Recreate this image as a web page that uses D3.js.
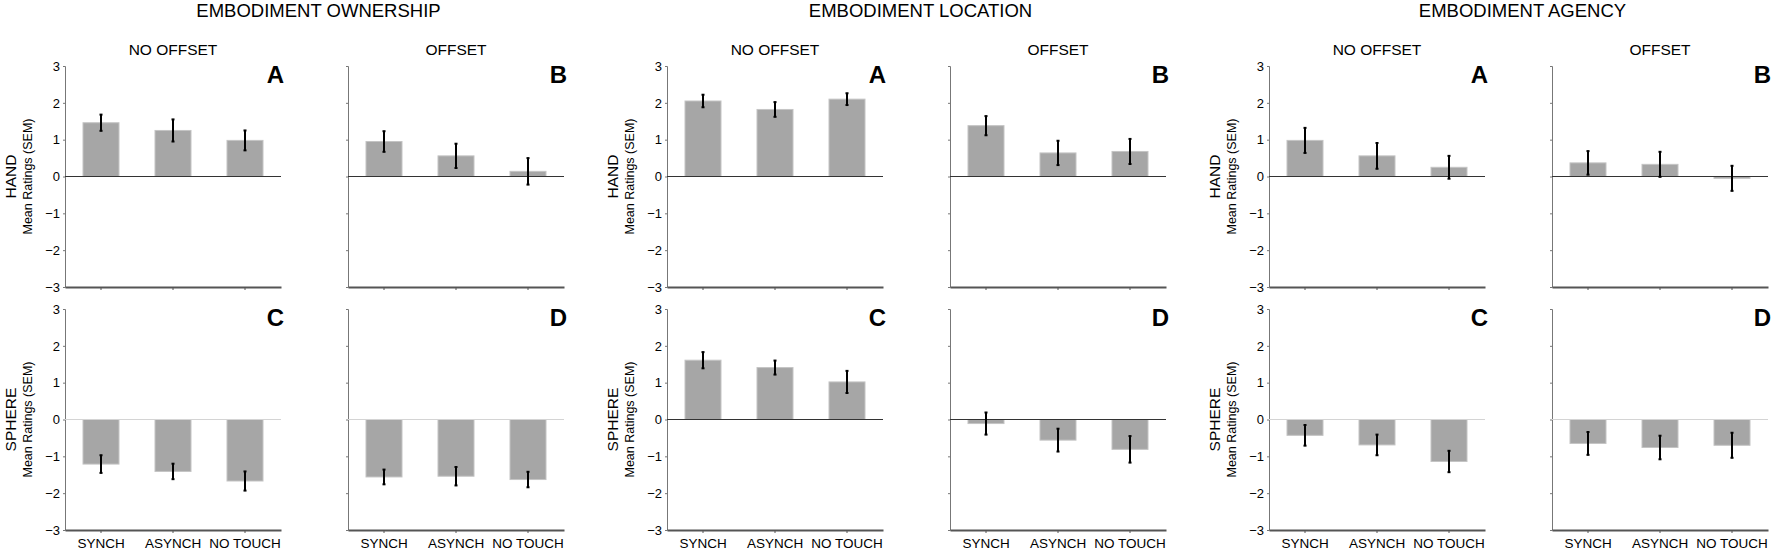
<!DOCTYPE html>
<html>
<head>
<meta charset="utf-8">
<script src="https://cdn.jsdelivr.net/npm/d3@7"></script>
<style>
  body { margin: 0; background: #fff; }
  svg { display: block; font-family: "Liberation Sans", Arial, Helvetica, sans-serif; }
</style>
</head>
<body>
<svg width="1772" height="551"></svg>
<script>
const measures = ["EMBODIMENT OWNERSHIP", "EMBODIMENT LOCATION", "EMBODIMENT AGENCY"];
const offsets = ["NO OFFSET", "OFFSET"];
const objects = ["HAND", "SPHERE"];
const conditions = ["SYNCH", "ASYNCH", "NO TOUCH"];
const yTicks = [-3, -2, -1, 0, 1, 2, 3];
const panelLetters = [["A", "B"], ["C", "D"]];

// mean ratings per panel: hand/no offset, hand/offset, sphere/no offset, sphere/offset
const ownershipMean = [[1.46, 1.25, 0.98], [0.95, 0.56, 0.14], [-1.21, -1.41, -1.67], [-1.56, -1.54, -1.63]];
const ownershipSem  = [[0.22, 0.30, 0.27], [0.28, 0.33, 0.36], [0.24, 0.21, 0.26], [0.20, 0.25, 0.21]];
const locationMean  = [[2.05, 1.82, 2.10], [1.38, 0.64, 0.68], [1.61, 1.41, 1.02], [-0.11, -0.56, -0.81]];
const locationSem   = [[0.17, 0.20, 0.16], [0.26, 0.33, 0.34], [0.22, 0.19, 0.30], [0.30, 0.31, 0.36]];
const agencyMean    = [[0.98, 0.56, 0.25], [0.37, 0.33, -0.05], [-0.43, -0.69, -1.14], [-0.65, -0.76, -0.70]];
const agencySem     = [[0.34, 0.35, 0.31], [0.32, 0.34, 0.34], [0.28, 0.28, 0.29], [0.31, 0.32, 0.34]];

const means = [ownershipMean, locationMean, agencyMean];
const sems = [ownershipSem, locationSem, agencySem];

// layout
const left0 = 65, panelW = 216, innerGap = 67, groupGap = 103;
const rows = [{ top: 66, bottom: 287 }, { top: 309, bottom: 530 }];

const svg = d3.select("svg");

const x = d3.scaleBand()
    .domain(conditions)
    .range([0, panelW])
    .paddingInner(0.5)
    .paddingOuter(0.25);

measures.forEach((measure, g) => {
    const gx = left0 + g * (2 * panelW + innerGap + groupGap);

    // group title
    svg.append("text")
        .attr("x", gx + panelW + innerGap / 2 + 4)
        .attr("y", 17)
        .attr("text-anchor", "middle")
        .style("font-size", "18.5px")
        .text(measure);

    offsets.forEach((off, c) => {
        const px = gx + c * (panelW + innerGap);

        svg.append("text")
            .attr("x", px + panelW / 2)
            .attr("y", 55)
            .attr("text-anchor", "middle")
            .style("font-size", "15.5px")
            .text(off);

        rows.forEach((row, r) => {
            const y = d3.scaleLinear().domain([-3, 3]).range([row.bottom, row.top]);
            const vals = means[g][r * 2 + c];
            const errs = sems[g][r * 2 + c];
            const data = conditions.map((k, i) => ({ k: k, v: vals[i], e: errs[i] }));

            const p = svg.append("g").attr("transform", `translate(${px},0)`);

            // row label on the no-offset panels
            if (c === 0) {
                p.append("text")
                    .attr("transform", `translate(-33,${y(0)}) rotate(-90)`)
                    .attr("text-anchor", "middle")
                    .style("font-size", "12.5px")
                    .text("Mean Ratings (SEM)");
                p.append("text")
                    .attr("transform", `translate(-49,${y(0)}) rotate(-90)`)
                    .attr("text-anchor", "middle")
                    .style("font-size", "15.5px")
                    .text(objects[r]);
            }

            // y axis
            const ya = p.append("g")
                .call(d3.axisLeft(y).tickValues(yTicks).tickSize(2).tickPadding(3)
                    .tickFormat(c === 0 ? d => d3.format("")(d).replace("-", "\u2212") : ""));
            ya.select(".domain").attr("stroke", "#777").attr("stroke-width", 1);
            ya.selectAll(".tick line").attr("stroke", "#777");
            ya.selectAll(".tick text").style("font-size", "13px").attr("fill", "#000");

            // x axis
            const xa = p.append("g")
                .attr("transform", `translate(0,${row.bottom})`)
                .call(d3.axisBottom(x).tickSize(3).tickSizeOuter(0).tickPadding(5)
                    .tickFormat(r === 1 ? d => d : ""));
            xa.select(".domain").attr("stroke", "#555").attr("stroke-width", 2);
            xa.selectAll(".tick line").attr("stroke", "#555");
            xa.selectAll(".tick text").style("font-size", "13.5px").attr("fill", "#000");

            // bars
            p.selectAll("rect.bar")
                .data(data)
                .enter().append("rect")
                .attr("class", "bar")
                .attr("x", d => x(d.k))
                .attr("width", x.bandwidth())
                .attr("y", d => y(Math.max(0, d.v)))
                .attr("height", d => Math.abs(y(d.v) - y(0)))
                .attr("fill", "#a6a6a6")
                .attr("stroke", "#c4c4c4")
                .attr("stroke-width", 1);

            // zero line
            const reachesUp = d3.max(data, d => d.v + d.e) > 0;
            p.append("line")
                .attr("x1", 0).attr("x2", panelW)
                .attr("y1", y(0)).attr("y2", y(0))
                .attr("stroke", reachesUp ? "#333" : "#d4d4d4")
                .attr("stroke-width", 1);

            // error bars
            const eb = p.selectAll("g.err")
                .data(data)
                .enter().append("g")
                .attr("class", "err")
                .attr("transform", d => `translate(${x(d.k) + x.bandwidth() / 2},0)`);
            eb.append("line")
                .attr("y1", d => y(d.v - d.e)).attr("y2", d => y(d.v + d.e))
                .attr("stroke", "#000").attr("stroke-width", 2);
            eb.append("line")
                .attr("x1", -1.5).attr("x2", 1.5)
                .attr("y1", d => y(d.v + d.e)).attr("y2", d => y(d.v + d.e))
                .attr("stroke", "#000").attr("stroke-width", 2);
            eb.append("line")
                .attr("x1", -1.5).attr("x2", 1.5)
                .attr("y1", d => y(d.v - d.e)).attr("y2", d => y(d.v - d.e))
                .attr("stroke", "#000").attr("stroke-width", 2);

            // panel letter
            p.append("text")
                .attr("x", panelW + 3)
                .attr("y", row.top + 17)
                .attr("text-anchor", "end")
                .style("font-size", "24px")
                .style("font-weight", "bold")
                .text(panelLetters[r][c]);
        });
    });
});
</script>
</body>
</html>
